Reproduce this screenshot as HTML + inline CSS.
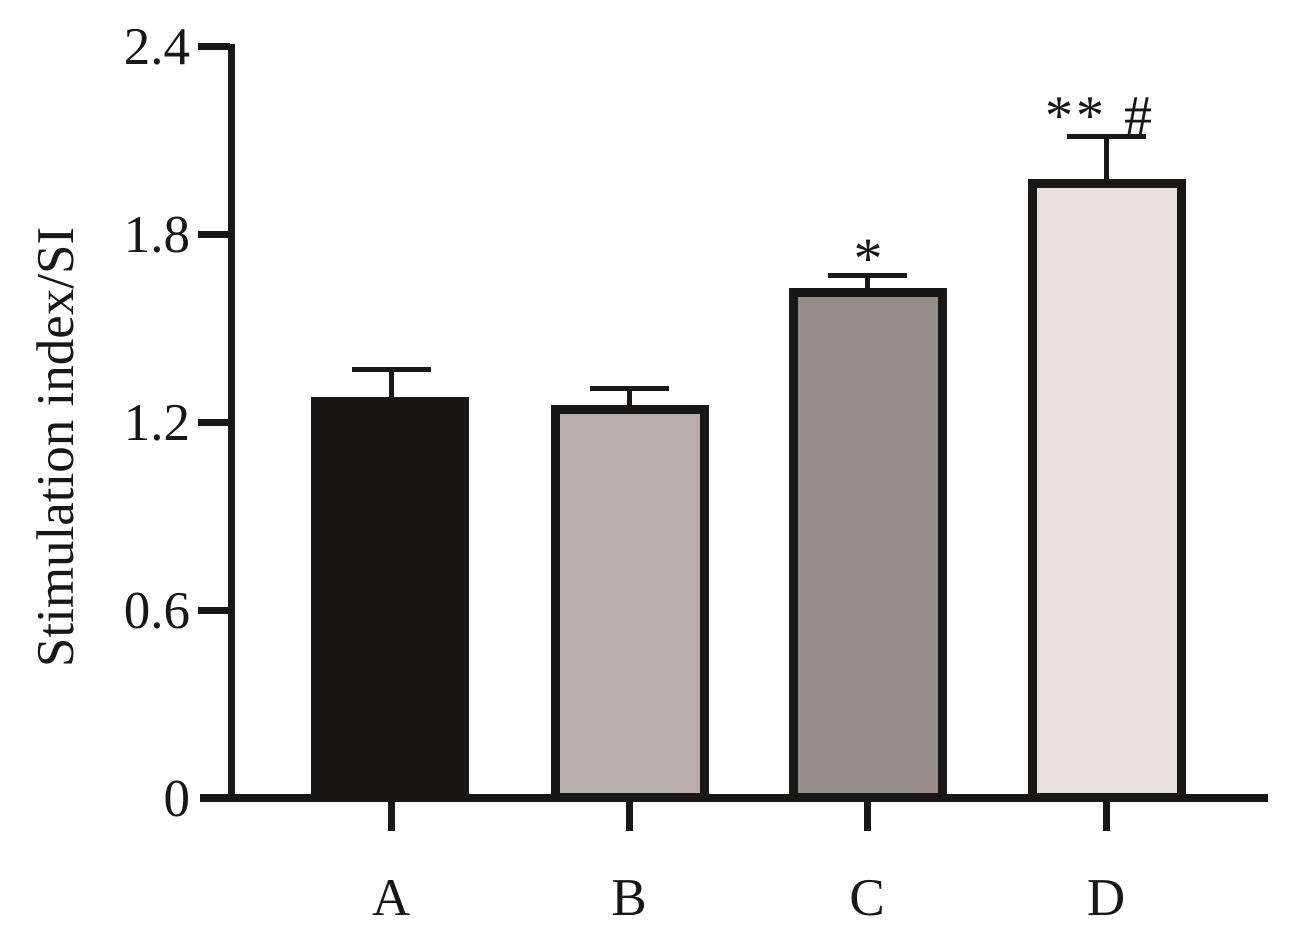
<!DOCTYPE html>
<html><head><style>body{margin:0;background:#fff}</style></head><body>
<svg width="1305" height="939" xmlns="http://www.w3.org/2000/svg" style="display:block">
<g fill="#181715" stroke="none">
<rect x="389" y="369" width="5" height="32"/>
<rect x="627" y="388" width="5" height="22"/>
<rect x="865" y="276" width="5" height="16"/>
<rect x="1104" y="137" width="5" height="46"/>
<rect x="352" y="367" width="79" height="5"/>
<rect x="590" y="386" width="79" height="5"/>
<rect x="828" y="273" width="79" height="5"/>
<rect x="1067" y="134" width="79" height="5"/>
</g>
<rect x="311" y="397" width="158" height="401" fill="#181715"/>
<rect x="555.5" y="409.5" width="149" height="388" fill="#b7aeab" stroke="#181715" stroke-width="9"/>
<rect x="793.5" y="292.5" width="149" height="505" fill="#958c87" stroke="#181715" stroke-width="9"/>
<rect x="1032.5" y="183.5" width="149" height="614" fill="#e7dfdd" stroke="#181715" stroke-width="9"/>
<g fill="#181715">
<rect x="228" y="44" width="7" height="758"/>
<rect x="200" y="794" width="1068" height="8"/>
<rect x="198" y="43" width="32" height="7"/>
<rect x="198" y="231" width="32" height="7"/>
<rect x="198" y="419" width="32" height="7"/>
<rect x="198" y="607" width="32" height="7"/>
<rect x="388" y="800" width="7" height="31"/>
<rect x="626" y="800" width="7" height="31"/>
<rect x="864" y="800" width="7" height="31"/>
<rect x="1103" y="800" width="7" height="31"/>
</g>
<g font-family="Liberation Serif, serif" font-size="53" fill="#181715">
<g text-anchor="end">
<text x="190" y="64">2.4</text>
<text x="190" y="252">1.8</text>
<text x="190" y="440">1.2</text>
<text x="190" y="628">0.6</text>
<text x="190" y="816">0</text>
</g>
<g text-anchor="middle">
<text x="391" y="915">A</text>
<text x="629" y="915">B</text>
<text x="867" y="915">C</text>
<text x="1106" y="915">D</text>
<text x="868" y="278" font-size="58">*</text>
<text x="1100" y="134" font-size="56" letter-spacing="3">** #</text>
<text transform="translate(73,447) rotate(-90)">Stimulation index/SI</text>
</g>
</g>
</svg>
</body></html>
